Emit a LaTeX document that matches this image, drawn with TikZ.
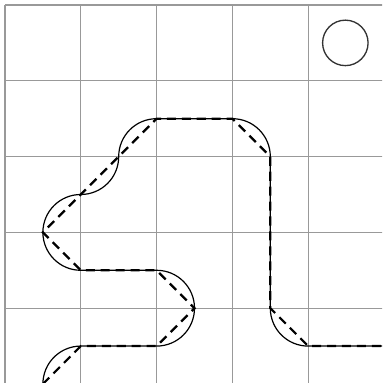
\documentclass[tikz,border=0pt]{standalone}
\begin{document}
\begin{tikzpicture}[x=1cm,y=1cm,
  gridline/.style={draw=black!40,line width=0.45pt},
  curvepath/.style={draw=black,line width=0.45pt},
  dashpath/.style={draw=black,line width=0.85pt,dash pattern=on 3.4pt off 2.2pt},
  marker/.style={circle,draw=black!80,line width=0.5pt,minimum size=0.6cm,inner sep=0pt}]
\useasboundingbox (-0.066,0.013) rectangle (4.974,5.066);
\begin{scope}
\clip (-0.066,0.013) rectangle (4.974,5.066);
\draw[gridline] (0,0) grid (5,5);
% smooth route
\draw[curvepath] (0.5,0) arc[start angle=180,end angle=90,radius=0.5]
  -- (2,0.5) arc[start angle=-90,end angle=90,radius=0.5]
  -- (1,1.5) arc[start angle=270,end angle=90,radius=0.5]
  arc[start angle=-90,end angle=0,radius=0.5]
  arc[start angle=180,end angle=90,radius=0.5]
  -- (3,3.5) arc[start angle=90,end angle=0,radius=0.5]
  -- (3.5,1) arc[start angle=180,end angle=270,radius=0.5]
  -- (5.1,0.5);
% straight route
\draw[dashpath] (0.5,0) -- (1,0.5) -- (2,0.5) -- (2.5,1) -- (2,1.5) -- (1,1.5)
  -- (0.5,2) -- (1,2.5) -- (2,3.5) -- (3,3.5) -- (3.5,3) -- (3.5,1) -- (4,0.5) -- (5.1,0.5);
\end{scope}
\node[marker] (goal) at (4.49,4.5) {};
\end{tikzpicture}
\end{document}
